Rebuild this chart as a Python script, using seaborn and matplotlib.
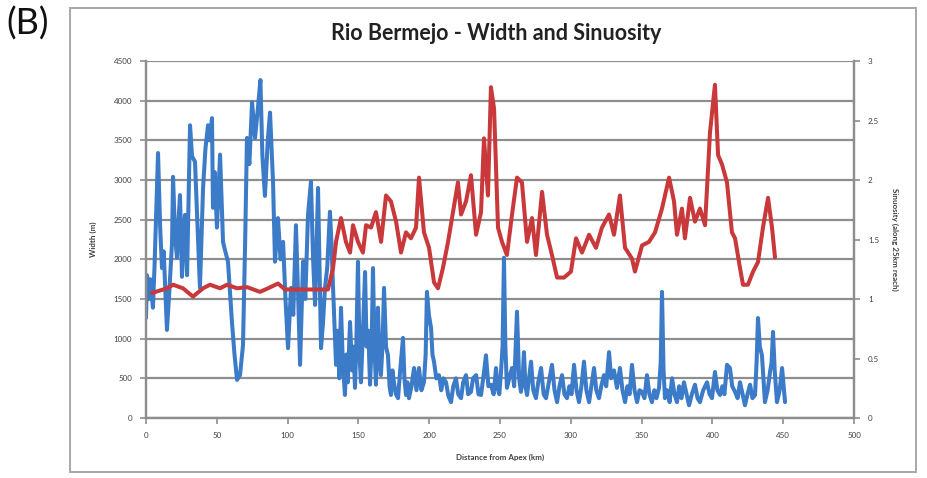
import matplotlib
matplotlib.use("Agg")
import matplotlib.pyplot as plt
from matplotlib.patches import Rectangle
import pandas as pd
import seaborn as sns

# Channel width along the river (distance from apex in km, width in m)
width_km = [0, 0.7, 2.0, 3.0, 4.9, 6.0, 8.5, 10.0, 11.3, 12.5, 14.8, 16.5, 18.4, 19.1,
            20.5, 21.9, 23.0, 24.0, 25.4, 26.5, 27.5, 29.0, 31.1, 32.5, 34.6, 36.0,
            38.1, 40.3, 42.0, 43.8, 45.0, 46.6, 47.3, 48.5, 50.1, 52.3, 54.4, 56.0,
            57.9, 60.7, 62.5, 64.3, 66.4, 68.5, 70.0, 71.3, 73.0, 74.9, 77.0, 79.0,
            80.8, 82.2, 84.0, 86.0, 87.6, 89.7, 91.1, 93.2, 95.0, 96.8, 98.5, 100.3,
            102.4, 104.0, 105.9, 107.5, 108.8, 110.9, 112.5, 114.4, 116.5, 118.0,
            119.4, 121.5, 123.6, 125.0, 126.4, 128.0, 129.9, 131.0, 132.1, 134.2,
            135.5, 136.5, 137.7, 139.0, 140.5, 141.5, 142.5, 144.1, 145.5, 146.5,
            147.6, 148.5, 149.7, 150.8, 151.8, 153.0, 154.7, 155.8, 157.0, 158.2,
            159.3, 160.3, 161.3, 162.4, 163.8, 165.0, 165.9, 167.0, 168.1, 169.5,
            170.9, 172.0, 173.0, 174.0, 175.1, 176.5, 178.0, 179.5, 181.5, 182.5,
            183.6, 184.6, 185.7, 187.5, 189.3, 191.0, 192.8, 194.5, 196.3, 197.5,
            198.4, 199.8, 201.3, 202.3, 203.4, 205.0, 206.9, 208.5, 210.0, 211.9,
            213.5, 215.4, 217.0, 218.9, 220.5, 222.5, 224.0, 226.0, 227.5, 229.5,
            231.0, 233.1, 234.8, 236.6, 238.5, 240.1, 241.8, 243.6, 245.5, 247.2,
            248.2, 249.5, 250.7, 251.8, 252.8, 253.8, 254.9, 256.5, 258.5, 260.0,
            262.0, 263.5, 264.8, 266.0, 266.9, 268.0, 269.1, 270.5, 271.9, 273.5,
            275.4, 277.0, 279.0, 280.8, 282.5, 284.5, 286.7, 288.5, 290.3, 292.0,
            293.8, 295.5, 297.3, 299.0, 300.5, 302.3, 304.0, 305.8, 307.5, 309.3,
            311.0, 312.9, 314.5, 316.4, 318.0, 319.9, 321.5, 323.4, 325.0, 327.0,
            328.5, 330.5, 332.6, 334.7, 336.5, 338.3, 340.0, 341.5, 343.2, 345.0,
            346.8, 348.5, 350.3, 352.0, 353.8, 355.5, 357.3, 359.0, 360.5, 362.3,
            363.5, 364.4, 365.5, 366.5, 368.0, 369.8, 371.5, 373.2, 375.0, 376.5,
            378.2, 379.9, 381.8, 383.5, 385.5, 387.7, 389.5, 391.2, 393.5, 396.2,
            398.0, 399.7, 401.8, 403.5, 405.4, 407.0, 408.5, 410.3, 412.4, 414.0,
            416.0, 417.8, 419.5, 421.3, 423.0, 424.8, 426.6, 428.3, 430.1, 431.2,
            432.2, 433.5, 435.0, 436.0, 437.1, 439.0, 440.7, 441.8, 442.8, 444.0,
            445.6, 447.5, 449.2, 450.3, 451.3]
width_m = [1260, 1800, 1500, 1750, 1390, 1900, 3340, 2400, 1890, 2100, 1110, 1600, 2220, 3040,
           2300, 2020, 2500, 2810, 1780, 2300, 2560, 1800, 3690, 3300, 3230, 2600,
           1640, 2900, 3400, 3690, 3500, 3780, 2650, 3100, 2400, 3320, 2220, 2100,
           1970, 1210, 800, 480, 540, 920, 2200, 3530, 3200, 3980, 3530, 3900,
           4260, 3300, 2800, 3500, 3850, 2980, 1970, 2520, 2000, 2220, 1500, 880,
           1640, 1300, 2430, 1500, 670, 1970, 1500, 2560, 2980, 2000,
           1425, 2900, 880, 1200, 1640, 1900, 2600, 2200, 1640, 670,
           1100, 500, 1390, 700, 290, 800, 450, 1210, 600, 900,
           380, 900, 1970, 800, 450, 1000, 1840, 900, 1100, 420,
           900, 1890, 900, 420, 1390, 700, 540, 900, 1640, 900,
           790, 400, 290, 600, 450, 300, 250, 600, 1010, 500,
           290, 450, 250, 400, 630, 350, 630, 350, 450, 800,
           1590, 1300, 1135, 800, 710, 500, 540, 350, 500, 450,
           280, 200, 400, 500, 300, 250, 450, 540, 300, 330,
           500, 540, 300, 290, 550, 790, 400, 420, 300, 630,
           380, 300, 580, 900, 2020, 900, 380, 500, 630, 400,
           1340, 500, 330, 500, 830, 400, 290, 500, 710, 350,
           250, 450, 630, 300, 250, 450, 670, 350, 200, 400,
           540, 300, 250, 400, 300, 670, 350, 200, 400, 710,
           350, 200, 400, 630, 350, 250, 400, 540, 400, 830,
           500, 600, 380, 630, 350, 200, 400, 300, 670, 350,
           200, 350, 330, 250, 540, 300, 200, 350, 250, 380,
           700, 1590, 600, 250, 350, 200, 500, 300, 200, 400,
           250, 450, 300, 160, 300, 420, 250, 200, 350, 450,
           300, 250, 580, 350, 290, 400, 300, 670, 630, 400,
           330, 250, 450, 300, 160, 300, 420, 250, 290, 700,
           1260, 900, 790, 500, 200, 350, 580, 700, 1085, 600,
           200, 350, 630, 400, 200]

# Sinuosity measured along a 25 km reach
sin_km = [4.2, 14.8, 19.1, 26.1, 33.2, 40.3, 45.2, 52.3, 57.2, 64.3, 71.3, 80.5, 86.2,
          93.2, 98.2, 107.3, 116.5, 128.5, 132.1, 134.2, 137.7, 141.2, 144.1, 146.2,
          149.7, 153.2, 155.4, 158.9, 162.4, 166.0, 169.5, 173.0, 176.6, 180.1, 183.6,
          187.1, 190.7, 192.8, 196.3, 199.9, 203.4, 206.2, 209.7, 213.3, 216.8, 220.3,
          222.5, 226.0, 229.5, 233.1, 236.6, 238.7, 241.5, 243.6, 245.8, 248.6, 251.4,
          254.9, 258.5, 262.0, 265.5, 269.1, 272.6, 275.4, 279.7, 283.2, 286.7, 290.3,
          295.2, 300.1, 303.7, 307.9, 312.9, 317.8, 322.0, 327.0, 330.5, 334.7, 338.3,
          343.2, 345.3, 350.3, 355.2, 359.5, 364.4, 369.4, 372.9, 375.0, 378.5, 380.6,
          384.2, 387.7, 391.2, 394.8, 398.3, 401.8, 404.0, 406.8, 410.3, 413.8, 416.0,
          419.5, 421.6, 425.1, 428.7, 432.2, 435.7, 439.3, 442.1, 444.2]
sinuosity = [1.05, 1.09, 1.12, 1.09, 1.02, 1.09, 1.12, 1.09, 1.12, 1.09, 1.10, 1.06, 1.09,
             1.13, 1.08, 1.08, 1.08, 1.08, 1.26, 1.48, 1.68, 1.48, 1.39, 1.62,
             1.48, 1.39, 1.62, 1.60, 1.73, 1.48, 1.87, 1.82, 1.65, 1.39, 1.56,
             1.51, 1.60, 2.02, 1.56, 1.43, 1.14, 1.09, 1.26, 1.48, 1.73, 1.98,
             1.71, 1.82, 2.04, 1.54, 1.73, 2.35, 1.87, 2.78, 2.60, 1.60, 1.48,
             1.37, 1.71, 2.02, 1.98, 1.48, 1.68, 1.37, 1.90, 1.54, 1.37, 1.18,
             1.18, 1.23, 1.51, 1.39, 1.54, 1.43, 1.60, 1.71, 1.54, 1.87, 1.43,
             1.34, 1.23, 1.45, 1.48, 1.56, 1.76, 2.02, 1.82, 1.54, 1.76, 1.51,
             1.85, 1.65, 1.76, 1.62, 2.40, 2.80, 2.21, 2.13, 1.98, 1.56, 1.51,
             1.26, 1.12, 1.12, 1.23, 1.31, 1.60, 1.85, 1.60, 1.35]

x_ticks = list(range(0, 501, 50))
width_ticks = list(range(0, 4501, 500))
sin_ticks = [0, 0.5, 1, 1.5, 2, 2.5, 3]

width_df = pd.DataFrame({"km": width_km, "width": width_m})
sin_df = pd.DataFrame({"km": sin_km, "sin": sinuosity})

sns.set_style("white")
plt.rcParams["font.family"] = ["Lato", "DejaVu Sans"]

BLUE = "#3b7bc8"
RED = "#c9383a"
GRID = "#8e8e8e"
TXT = "#404040"

fig = plt.figure(figsize=(9.28, 4.78), dpi=100)
ax = fig.add_axes([146 / 928, 1 - 418 / 478, (854 - 146) / 928, (418 - 61) / 478])
ax2 = ax.twinx()

sns.lineplot(data=width_df, x="km", y="width", ax=ax, color=BLUE,
             linewidth=2.9, estimator=None, sort=False)
sns.lineplot(data=sin_df, x="km", y="sin", ax=ax2, color=RED,
             linewidth=2.9, estimator=None, sort=False)

ax.set_xlim(0, 500)
ax.set_ylim(0, 4500)
ax2.set_ylim(0, 3)
ax.set_xticks(x_ticks)
ax.set_yticks(width_ticks)
ax2.set_yticks(sin_ticks)
ax.set_xticklabels([str(v) for v in x_ticks])
ax.set_yticklabels([str(v) for v in width_ticks])
ax2.set_yticklabels([f"{v:g}" for v in sin_ticks])

ax.yaxis.grid(True, color=GRID, linewidth=1.6)
ax.xaxis.grid(False)
ax.set_axisbelow(True)

for a in (ax, ax2):
    for s in a.spines.values():
        s.set_color(GRID)
        s.set_linewidth(1.6)
    a.spines["top"].set_visible(False)
ax.tick_params(axis="both", which="both", direction="out", length=4, width=1.2,
               color=GRID, labelsize=5.8, labelcolor=TXT, pad=6,
               left=True, bottom=True)
ax2.tick_params(axis="y", direction="out", length=4, width=1.2, color=GRID,
                labelsize=5.8, labelcolor=TXT, pad=6, right=True)

ax.set_xlabel("Distance from Apex (km)", fontsize=5.8, fontweight="bold",
              color=TXT, labelpad=11)
ax.set_ylabel("Width (m)", fontsize=5.8, fontweight="bold", color=TXT, labelpad=12)
ax2.set_ylabel("Sinuosity (along 25km reach)", fontsize=5.8, fontweight="bold",
               color=TXT, rotation=270, labelpad=14)

fig.text(496 / 928, 1 - 33 / 478, "Rio Bermejo - Width and Sinuosity",
         ha="center", va="center", fontsize=15.5, fontweight="bold", color="#222222")
fig.text(6 / 928, 1 - 24 / 478, "(B)", ha="left", va="center", fontsize=26,
         color="#111111")

# Chart frame
fig.patches.append(Rectangle((70 / 928, 1 - 472 / 478), (916 - 70) / 928,
                             (472 - 8) / 478, transform=fig.transFigure,
                             fill=False, edgecolor="#a8a8a8", linewidth=1.4))

fig.savefig("out.png", dpi=100, facecolor="white")
